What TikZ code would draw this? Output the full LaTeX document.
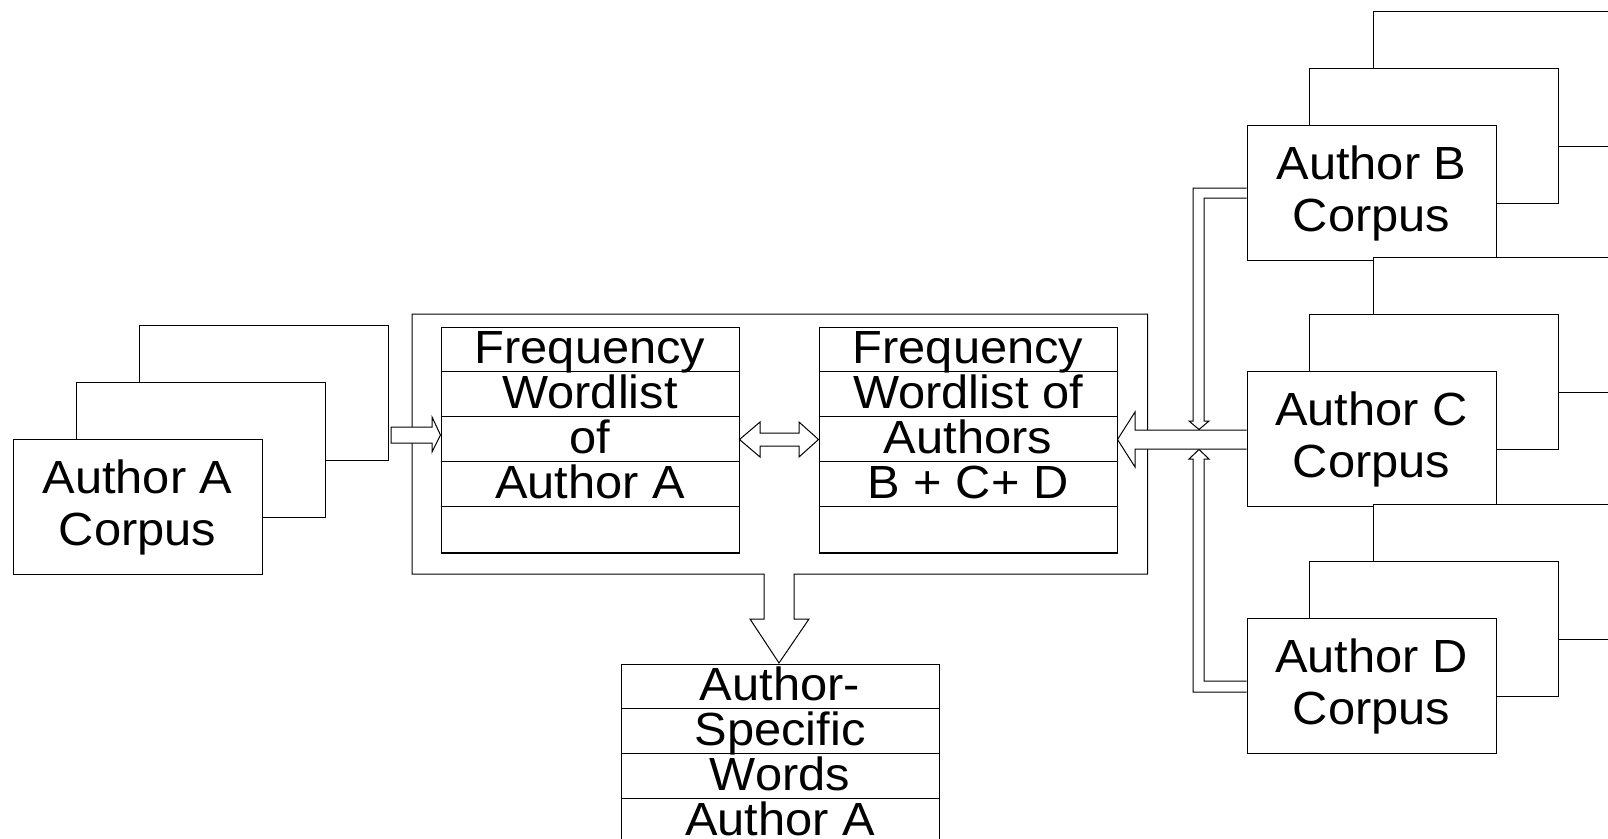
\documentclass[tikz,border=0pt]{standalone}
\usepackage{fontspec}
\setmainfont[FakeStretch=1.05]{Liberation Sans}
\begin{document}
\begin{tikzpicture}[x=1pt,y=-1pt,
  line/.style={draw=black,line width=1pt},
  sheet/.style={line, fill=white, minimum width=249pt, minimum height=135pt, inner sep=0pt},
  corpus/.style={sheet, align=center, font=\fontsize{46.5}{52}\selectfont},
  table/.style={line, fill=white, minimum width=298pt, minimum height=225pt, inner sep=0pt},
  cell/.style={anchor=base, inner sep=0pt, font=\fontsize{46.5}{52}\selectfont},
  blockarrow/.style={line, fill=white, line join=miter},
]
\useasboundingbox (0,0) rectangle (1608,838);
\clip (0,0) rectangle (1608,838);

% Author A stack
\node[sheet] (A3) at (263.5,392.5) {};
\node[sheet] (A2) at (201,449.5) {};
\node[corpus] (A) at (137.5,507) {Author A\\Corpus};

% Author B stack
\node[sheet] (B3) at (1497.5,78.5) {};
\node[sheet] (B2) at (1434,135.5) {};
\node[corpus] (B) at (1371.5,193) {Author B\\Corpus};

% Author C stack
\node[sheet] (C3) at (1497.5,324.5) {};
\node[sheet] (C2) at (1434,381.5) {};
\node[corpus] (C) at (1371.5,439) {Author C\\Corpus};

% Author D stack
\node[sheet] (D3) at (1497.5,571.5) {};
\node[sheet] (D2) at (1434,628.5) {};
\node[corpus] (D) at (1371.5,686) {Author D\\Corpus};

% container with output arrow
\draw[blockarrow] (412,314) -- (1147.5,314) -- (1147.5,574) -- (794,574) -- (794,619)
  -- (809,619) -- (779,663) -- (750,619) -- (764,619) -- (764,574) -- (412,574) -- cycle;

% tables
\node[table] (LT) at (590,439.5) {};
\node[table] (RT) at (968,439.5) {};
\node[table, minimum width=318pt] (WT) at (780,776.5) {};
\foreach \t in {LT,RT,WT}{
  \foreach \y in {45,90,135,180}{
    \path (\t.north west) ++(0,\y) coordinate (rowstart);
    \draw[line] (rowstart) -- (\t.east |- rowstart);
  }
  \draw[line width=2pt] (\t.south west) -- (\t.south east);
}

\node[cell] (lt1) at (590,363) {Frequency};
\node[cell] (lt2) at (590,408) {Wordlist};
\node[cell] (lt3) at (590,453) {of};
\node[cell] (lt4) at (590,498) {Author A};

\node[cell] (rt1) at (968,363) {Frequency};
\node[cell] (rt2) at (968,408) {Wordlist of};
\node[cell] (rt3) at (968,453) {Authors};
\node[cell] (rt4) at (968,498) {B + C+ D};

\node[cell] (wt1) at (780,700) {Author-};
\node[cell] (wt2) at (780,745) {Specific};
\node[cell] (wt3) at (780,790) {Words};
\node[cell] (wt4) at (780,835) {Author A};

% A -> left table
\draw[blockarrow] (391,427) -- (432,427) -- (432,417) -- (LT.west |- 0,435) -- (432,452)
  -- (432,443) -- (391,443) -- cycle;

% double arrow between tables
\draw[blockarrow] (LT.east |- 0,439.5) -- (760,422) -- (760,433) -- (799,433) -- (799,422)
  -- (RT.west |- 0,439.5) -- (799,457) -- (799,446) -- (760,446) -- (760,457) -- cycle;

% B and D feed arrows
\draw[blockarrow] (B.west |- 0,188) -- (1193,188) -- (1193,421) -- (1189,421) -- (1199,429.5)
  -- (1209,421) -- (1204,421) -- (1204,198) -- (B.west |- 0,198);
\draw[blockarrow] (D.west |- 0,692) -- (1193,692) -- (1193,459) -- (1189,459) -- (1199,449.5)
  -- (1209,459) -- (1204,459) -- (1204,681) -- (D.west |- 0,681);

% C -> right table
\draw[blockarrow] (C.west |- 0,430) -- (1135,430) -- (1135,412) -- (RT.east |- 0,439.5)
  -- (1135,467) -- (1135,449) -- (C.west |- 0,449);
\end{tikzpicture}
\end{document}
